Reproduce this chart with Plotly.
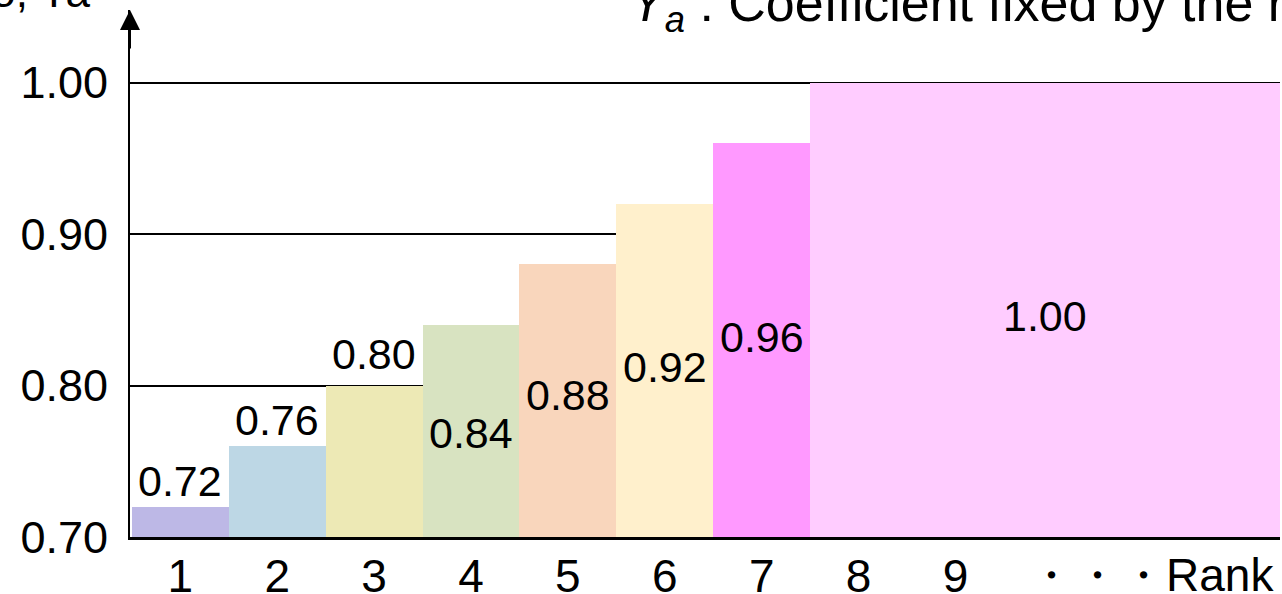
import plotly.graph_objects as go

# ---- data ----
ranks = [1, 2, 3, 4, 5, 6, 7]
values = [0.72, 0.76, 0.80, 0.84, 0.88, 0.92, 0.96]
bar_colors = ["#BDB8E6", "#BDD7E5", "#EDE9B5", "#D8E3C1", "#F9D6BC", "#FFF0CC", "#FF99FF"]
tail_ranks = [8, 9, 10, 11, 12]
tail_values = [1.00, 1.00, 1.00, 1.00, 1.00]
tail_color = "#FFCCFF"
tick_ranks = [1, 2, 3, 4, 5, 6, 7, 8, 9]
tick_labels = ["1", "2", "3", "4", "5", "6", "7", "8", "9"]
y_ticks = [0.70, 0.80, 0.90, 1.00]
y_tick_labels = ["0.70", "0.80", "0.90", "1.00"]

# label placement (style): value-axis height of each label centre
label_y = [0.737, 0.777, 0.821, 0.769, 0.794, 0.812, 0.832]
tail_label_y = 0.846

BASE = 0.70
FONT = "Arial, Liberation Sans, sans-serif"
X_RANGE = [0.48, 12.35]
Y_RANGE = [BASE, 1.048]

fig = go.Figure()
fig.add_trace(go.Bar(
    x=ranks, y=[v - BASE for v in values], base=BASE,
    marker=dict(color=bar_colors, line=dict(width=0)),
    width=1.0, hoverinfo="skip", showlegend=False,
))
fig.add_trace(go.Bar(
    x=tail_ranks, y=[v - BASE for v in tail_values], base=BASE,
    marker=dict(color=tail_color, line=dict(width=0)),
    width=1.0, hoverinfo="skip", showlegend=False,
))

annotations = []
for r, v, ly in zip(ranks, values, label_y):
    annotations.append(dict(x=r, y=ly, xref="x", yref="y", text=f"{v:.2f}",
                            showarrow=False, font=dict(size=43, color="black", family=FONT)))
annotations.append(dict(x=(tail_ranks[0] - 0.5 + X_RANGE[1]) / 2, y=tail_label_y, xref="x", yref="y",
                        text=f"{tail_values[0]:.2f}", showarrow=False,
                        font=dict(size=43, color="black", family=FONT)))
# axis arrow
annotations.append(dict(x=0, y=1, xref="paper", yref="paper", text="", showarrow=True,
                        ax=0, ay=40, arrowhead=2, arrowsize=2.0, arrowwidth=2, arrowcolor="black"))
# rank continuation label
annotations.append(dict(x=1.0, y=0, xref="paper", yref="paper", xanchor="right", yanchor="top",
                        xshift=-4, yshift=-10, text="・・・Rank", showarrow=False,
                        font=dict(size=46, color="black", family=FONT)))
# top texts (partly cut by the top edge)
annotations.append(dict(x=0, y=1, xref="paper", yref="paper", xanchor="right", yanchor="bottom",
                        xshift=-38, text="Ratio, Ya", showarrow=False, yshift=-8,
                        font=dict(size=44, color="black", family=FONT)))
annotations.append(dict(x=0.433, y=1, xref="paper", yref="paper", xanchor="left", yanchor="bottom",
                        text="<i>Y</i><sub><i>a</i></sub> : Coefficient fixed by the rank", showarrow=False,
                        yshift=-32, font=dict(size=52, color="black", family=FONT)))

fig.update_layout(
    width=1282, height=594,
    margin=dict(l=130, r=2, t=10, b=57),
    paper_bgcolor="white", plot_bgcolor="white",
    bargap=0, barmode="overlay",
    font=dict(family=FONT, color="black"),
    annotations=annotations,
    xaxis=dict(range=X_RANGE, tickvals=tick_ranks, ticktext=tick_labels, automargin=False,
               showgrid=False, zeroline=False, showline=True, linecolor="black", linewidth=2.5,
               ticks="", ticklabelstandoff=-3, tickfont=dict(size=46, color="black", family=FONT)),
    yaxis=dict(range=Y_RANGE, tickvals=y_ticks, ticktext=y_tick_labels, automargin=False,
               showgrid=True, gridcolor="black", gridwidth=2, zeroline=False,
               showline=True, linecolor="black", linewidth=2,
               ticks="", ticklabelstandoff=11, tickfont=dict(size=45, color="black", family=FONT)),
)
fig.write_html("out.html", config={"displayModeBar": False},
               post_script="document.body.style.margin='0';document.body.style.overflow='hidden';")
